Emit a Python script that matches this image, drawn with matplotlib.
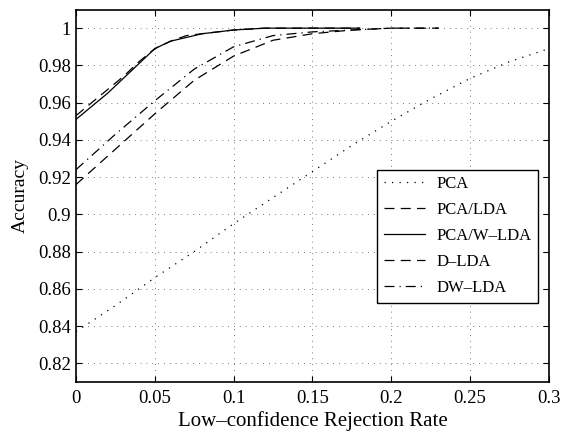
import matplotlib
matplotlib.use("Agg")
import matplotlib.pyplot as plt

plt.rcParams['font.family'] = ['Liberation Serif', 'DejaVu Serif']

# rejection rate grid for each curve
x_pca = [0, 0.025, 0.05, 0.075, 0.1, 0.125, 0.15, 0.175, 0.2, 0.225, 0.25, 0.275, 0.3]
pca = [0.837, 0.851, 0.866, 0.880, 0.895, 0.909, 0.923, 0.937, 0.950, 0.962, 0.973, 0.982, 0.989]

x_lda = [0, 0.025, 0.05, 0.075, 0.1, 0.125, 0.15, 0.175, 0.2, 0.23]
pca_lda = [0.916, 0.935, 0.954, 0.972, 0.985, 0.9935, 0.997, 0.999, 1.0, 1.0]
dw_lda = [0.924, 0.943, 0.961, 0.978, 0.990, 0.996, 0.998, 0.999, 1.0, 1.0]

x_w = [0, 0.01, 0.02, 0.03, 0.04, 0.05, 0.06, 0.07, 0.08, 0.09, 0.1, 0.12, 0.15, 0.18]
pca_wlda = [0.951, 0.958, 0.965, 0.973, 0.981, 0.989, 0.993, 0.995, 0.997, 0.998, 0.999, 1.0, 1.0, 1.0]
d_lda = [0.953, 0.960, 0.967, 0.974, 0.982, 0.989, 0.993, 0.996, 0.997, 0.998, 0.999, 1.0, 1.0, 1.0]

fig = plt.figure(figsize=(5.63, 4.33), dpi=100)
ax = fig.add_axes([0.135, 0.118, 0.84, 0.86])

ax.plot(x_pca, pca, color='k', linestyle=(0, (1, 5)), linewidth=0.9, label='PCA')
ax.plot(x_lda, pca_lda, color='k', linestyle=(0, (8, 5)), linewidth=0.9, label='PCA/LDA')
ax.plot(x_w, pca_wlda, color='k', linestyle='-', linewidth=0.9, label='PCA/W\u2013LDA')
ax.plot(x_w, d_lda, color='k', linestyle=(0, (8, 5)), linewidth=0.9, label='D\u2013LDA')
ax.plot(x_lda, dw_lda, color='k', linestyle=(0, (8, 4, 1, 4)), linewidth=0.9, label='DW\u2013LDA')

ax.set_xlim(0, 0.3)
ax.set_ylim(0.81, 1.01)
ax.set_xticks([0, 0.05, 0.1, 0.15, 0.2, 0.25, 0.3])
ax.set_xticklabels(['0', '0.05', '0.1', '0.15', '0.2', '0.25', '0.3'])
ax.set_yticks([0.82, 0.84, 0.86, 0.88, 0.9, 0.92, 0.94, 0.96, 0.98, 1.0])
ax.set_yticklabels(['0.82', '0.84', '0.86', '0.88', '0.9', '0.92', '0.94', '0.96', '0.98', '1'])
ax.tick_params(direction='in', top=True, right=True, labelsize=13.5, length=4, width=0.8)
ax.tick_params(axis='x', pad=6)
ax.grid(True, linestyle=(0, (1, 6)), color='0.3', linewidth=0.6)
for s in ax.spines.values():
    s.set_linewidth(1.2)

ax.set_xlabel('Low\u2013confidence Rejection Rate', fontsize=15, labelpad=3)
ax.set_ylabel('Accuracy', fontsize=14, labelpad=7)

leg = ax.legend(loc='lower right', bbox_to_anchor=(0.977, 0.212), fontsize=12,
                fancybox=False, edgecolor='k', framealpha=1, handlelength=2.45,
                handletextpad=0.7, borderpad=0.4, labelspacing=0.6, borderaxespad=0)
leg.get_frame().set_linewidth(1.0)

fig.savefig('out.png', dpi=100)
